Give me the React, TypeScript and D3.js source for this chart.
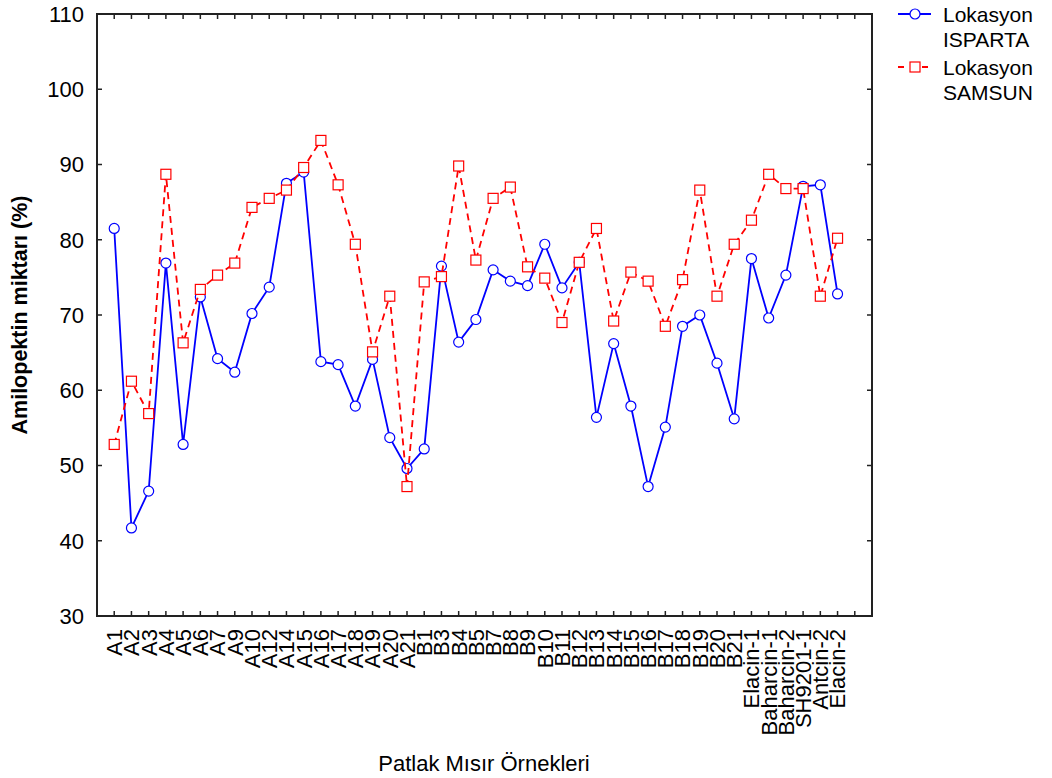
import React, { useRef, useEffect } from 'react'
import * as d3 from 'd3'

const categories = ['A1', 'A2', 'A3', 'A4', 'A5', 'A6', 'A7', 'A9', 'A10', 'A12', 'A14', 'A15', 'A16', 'A17', 'A18', 'A19', 'A20', 'A21',
  'B1', 'B3', 'B4', 'B5', 'B7', 'B8', 'B9', 'B10', 'B11', 'B12', 'B13', 'B14', 'B15', 'B16', 'B17', 'B18', 'B19', 'B20', 'B21',
  'Elacin-1', 'Baharcin-1', 'Baharcin-2', 'SH9201-1', 'Antcin-2', 'Elacin-2']

const isparta = [81.5, 41.7, 46.6, 76.9, 52.8, 72.4, 64.2, 62.4, 70.2, 73.7, 87.5, 89.0, 63.8, 63.4, 57.9, 64.1, 53.7, 49.6,
  52.2, 76.5, 66.4, 69.4, 76.0, 74.5, 73.9, 79.4, 73.6, 77.0, 56.4, 66.2, 57.9, 47.2, 55.1, 68.5, 70.0, 63.6, 56.2,
  77.5, 69.6, 75.3, 87.1, 87.3, 72.8]

const samsun = [52.8, 61.2, 56.9, 88.7, 66.3, 73.4, 75.3, 76.9, 84.3, 85.5, 86.6, 89.6, 93.2, 87.3, 79.4, 65.1, 72.5, 47.2,
  74.4, 75.1, 89.8, 77.3, 85.5, 87.0, 76.4, 74.9, 69.0, 77.0, 81.5, 69.2, 75.7, 74.5, 68.5, 74.7, 86.6, 72.5, 79.4,
  82.6, 88.7, 86.8, 86.8, 72.5, 80.2]

const yTicks = [30, 40, 50, 60, 70, 80, 90, 100, 110]

const FONT = '"Liberation Sans", Arial, sans-serif'

const App = () => {
  const svgRef = useRef(null)

  useEffect(() => {
    const svg = d3.select(svgRef.current)
    svg.selectAll('*').remove()

    const left = 97, right = 872, top = 14, bottom = 616
    const n = categories.length

    const x = d3.scaleLinear().domain([0, n + 2]).range([left, right])
    const y = d3.scaleLinear().domain([30, 110]).range([bottom, top])

    // frame
    svg.append('rect')
      .attr('x', left).attr('y', top)
      .attr('width', right - left).attr('height', bottom - top)
      .attr('fill', 'none').attr('stroke', '#222').attr('stroke-width', 2)

    const tl = 5
    const xt = d3.range(1, n + 2)
    const g = svg.append('g').attr('stroke', '#222').attr('stroke-width', 1.5)
    xt.forEach(t => {
      g.append('line').attr('x1', x(t)).attr('x2', x(t)).attr('y1', bottom).attr('y2', bottom - tl)
      g.append('line').attr('x1', x(t)).attr('x2', x(t)).attr('y1', top).attr('y2', top + tl)
    })
    yTicks.forEach(t => {
      g.append('line').attr('x1', left).attr('x2', left + tl).attr('y1', y(t)).attr('y2', y(t))
      g.append('line').attr('x1', right).attr('x2', right - tl).attr('y1', y(t)).attr('y2', y(t))
    })

    // y tick labels
    svg.append('g').selectAll('text').data(yTicks).join('text')
      .attr('x', left - 13).attr('y', d => y(d)).attr('dy', '0.36em')
      .attr('text-anchor', 'end').attr('font-size', 22).attr('font-family', FONT)
      .text(d => d)

    // x tick labels
    svg.append('g').selectAll('text').data(categories).join('text')
      .attr('transform', (d, i) => `translate(${x(i + 1)},${bottom + 13}) rotate(-90)`)
      .attr('dy', '0.36em')
      .attr('text-anchor', 'end').attr('font-size', 22).attr('font-family', FONT)
      .text(d => d)

    // axis titles
    svg.append('text')
      .attr('transform', `translate(27,${(top + bottom) / 2}) rotate(-90)`)
      .attr('text-anchor', 'middle').attr('font-size', 21.5).attr('font-weight', 'bold')
      .attr('font-family', FONT).text('Amilopektin miktarı (%)')
    svg.append('text')
      .attr('x', 484).attr('y', 771)
      .attr('text-anchor', 'middle').attr('font-size', 22)
      .attr('font-family', FONT).text('Patlak Mısır Örnekleri')

    const ln = d3.line().x((d, i) => x(i + 1)).y(d => y(d))

    // ISPARTA
    svg.append('path').datum(isparta).attr('d', ln)
      .attr('fill', 'none').attr('stroke', '#0000ff').attr('stroke-width', 1.8)
    svg.append('g').selectAll('circle').data(isparta).join('circle')
      .attr('cx', (d, i) => x(i + 1)).attr('cy', d => y(d)).attr('r', 5)
      .attr('fill', '#fff').attr('stroke', '#0000ff').attr('stroke-width', 1.2)

    // SAMSUN
    svg.append('path').datum(samsun).attr('d', ln)
      .attr('fill', 'none').attr('stroke', '#ff0000').attr('stroke-width', 1.8)
      .attr('stroke-dasharray', '7,5')
    svg.append('g').selectAll('rect').data(samsun).join('rect')
      .attr('x', (d, i) => x(i + 1) - 5).attr('y', d => y(d) - 5)
      .attr('width', 10).attr('height', 10)
      .attr('fill', '#fff').attr('stroke', '#ff0000').attr('stroke-width', 1.2)

    // legend
    const lg = svg.append('g').attr('font-family', FONT).attr('font-size', 21)
    lg.append('line').attr('x1', 898).attr('x2', 931).attr('y1', 14).attr('y2', 14)
      .attr('stroke', '#0000ff').attr('stroke-width', 1.8)
    lg.append('circle').attr('cx', 915).attr('cy', 14).attr('r', 5)
      .attr('fill', '#fff').attr('stroke', '#0000ff').attr('stroke-width', 1.2)
    lg.append('text').attr('x', 943).attr('y', 22).text('Lokasyon')
    lg.append('text').attr('x', 943).attr('y', 47).text('ISPARTA')
    lg.append('line').attr('x1', 898).attr('x2', 933).attr('y1', 67).attr('y2', 67)
      .attr('stroke', '#ff0000').attr('stroke-width', 1.8).attr('stroke-dasharray', '6,6')
    lg.append('rect').attr('x', 910).attr('y', 62).attr('width', 10).attr('height', 10)
      .attr('fill', '#fff').attr('stroke', '#ff0000').attr('stroke-width', 1.2)
    lg.append('text').attr('x', 943).attr('y', 75).text('Lokasyon')
    lg.append('text').attr('x', 943).attr('y', 100).text('SAMSUN')
  }, [])

  return (
    <svg ref={svgRef} width={1052} height={778}
      style={{ position: 'absolute', left: 0, top: 0, background: '#fff' }} />
  )
}

export default App
